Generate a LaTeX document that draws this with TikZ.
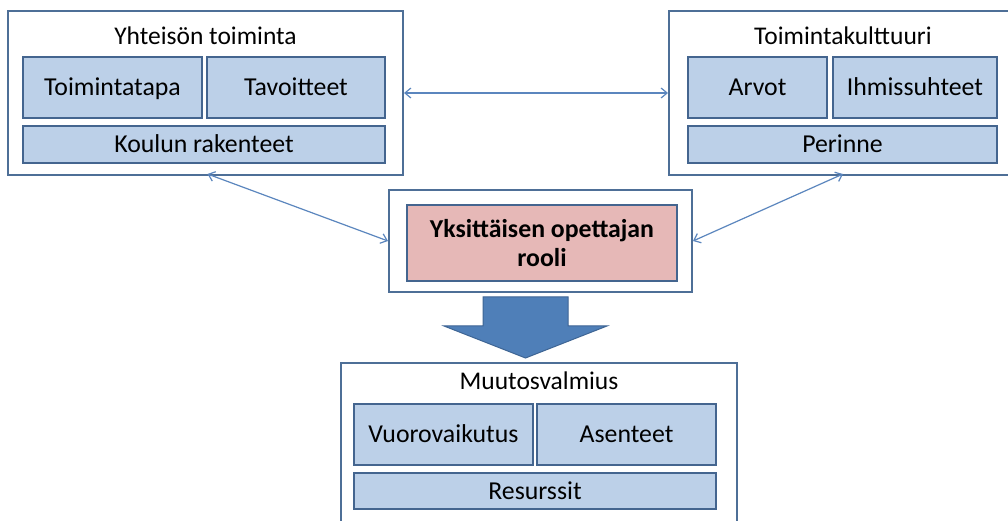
\documentclass[tikz,border=0pt]{standalone}
\usepackage{fontspec}
\setmainfont{Carlito}
\usetikzlibrary{arrows.meta}
\definecolor{outerline}{HTML}{4E6F97}
\definecolor{innerline}{HTML}{44658F}
\definecolor{innerfill}{HTML}{BCD0E8}
\definecolor{pinkfill}{HTML}{E6B8B7}
\definecolor{conn}{HTML}{5B86BE}
\definecolor{bigarrow}{HTML}{4F7FB8}
\definecolor{bigarrowline}{HTML}{3E6594}
\tikzset{
  outerbox/.style={draw=outerline, line width=2bp, fill=white, inner sep=0pt},
  innerbox/.style={draw=innerline, line width=1.5bp, fill=innerfill, inner sep=0pt,
    font=\fontsize{25.8bp}{29bp}\selectfont, text=black, text height=16.5bp, text depth=0.5bp},
  pinkbox/.style={draw=innerline, line width=1.5bp, fill=pinkfill, inner sep=0pt,
    font=\bfseries\fontsize{25.8bp}{29bp}\selectfont, text=black, align=center},
  titletext/.style={font=\fontsize{25.5bp}{29bp}\selectfont, text=black, inner sep=0pt,
    text height=16.5bp, text depth=0.5bp},
  connector/.style={draw=conn, line width=1.2bp, {Straight Barb[length=6bp,width=10bp]}-{Straight Barb[length=6bp,width=10bp]}}
}
\begin{document}
\begin{tikzpicture}[x=1bp,y=-1bp]
\useasboundingbox (0,0) rectangle (1008,521);
\clip (0,0) rectangle (1008,521);
\fill[white] (0,0) rectangle (1008,521);
% left group
\node[outerbox, minimum width=395bp, minimum height=164bp] (louter) at (205.5,93) {};
\node[titletext] (ltitle) at (205.5,37) {Yhteisön toiminta};
\node[innerbox, minimum width=179bp, minimum height=61bp] (toim) at (112.5,87.5) {Toimintatapa};
\node[innerbox, minimum width=178bp, minimum height=61bp] (tav) at (296,87.5) {Tavoitteet};
\node[innerbox, minimum width=362bp, minimum height=37bp] (koul) at (204,144.5) {Koulun rakenteet};
% right group
\node[outerbox, minimum width=348bp, minimum height=164bp] (router) at (843,93) {};
\node[titletext] (rtitle) at (843,37) {Toimintakulttuuri};
\node[innerbox, minimum width=139bp, minimum height=61bp] (arvot) at (757.5,87.5) {Arvot};
\node[innerbox, minimum width=164bp, minimum height=61bp] (ihm) at (915,87.5) {Ihmissuhteet};
\node[innerbox, minimum width=309bp, minimum height=37bp] (per) at (842.5,144.5) {Perinne};
% middle
\node[outerbox, minimum width=303bp, minimum height=102bp] (mid) at (540.5,241) {};
\node[pinkbox, minimum width=270bp, minimum height=76bp] (role) at (542,243) {Yksittäisen opettajan\\rooli};
% bottom group
\node[outerbox, minimum width=396bp, minimum height=200bp] (bouter) at (539,463) {};
\node[titletext] (btitle) at (539,381) {Muutosvalmius};
\node[innerbox, minimum width=179bp, minimum height=61bp] (vuor) at (443.5,434.5) {Vuorovaikutus};
\node[innerbox, minimum width=179bp, minimum height=61bp] (asen) at (626.5,434.5) {Asenteet};
\node[innerbox, minimum width=362bp, minimum height=36bp] (res) at (535,491) {Resurssit};
% block arrow
\draw[fill=bigarrow, draw=bigarrowline, line width=1bp, line join=miter]
  (483,297) -- (568,297) -- (568,326) -- (607,326) -- (525.5,358) -- (444,326) -- (483,326) -- cycle;
% connectors
\draw[connector] (louter.east) -- (router.west);
\draw[connector] ([xshift=2bp,yshift=2bp]louter.south) -- (mid.west);
\draw[connector] ([yshift=2bp]router.south) -- (mid.east);
\end{tikzpicture}
\end{document}
